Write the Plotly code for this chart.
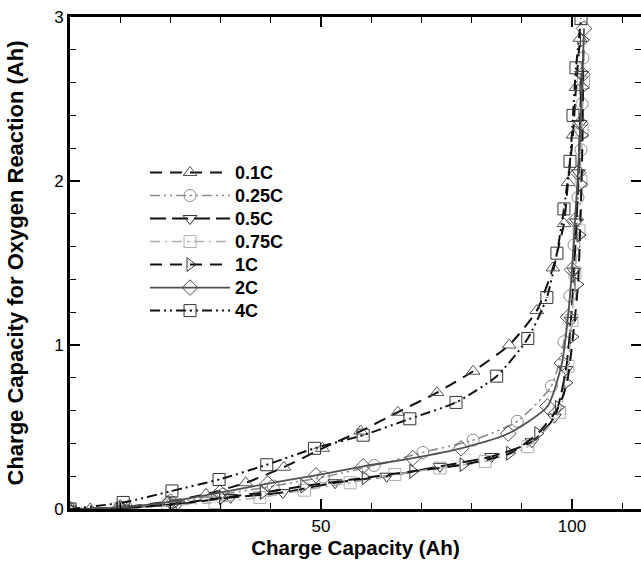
import plotly.graph_objects as go

# ---- data ----
names = ["0.1C", "0.25C", "0.5C", "0.75C", "1C", "2C", "4C"]

x_01C = [0, 4, 11.7, 19.4, 27.1, 35, 42.6, 50.3, 57.9, 65.3, 73.1, 80.3, 87.5, 93.0, 96.2, 98.4, 99.2, 100.2, 100.8, 101.6]
y_01C = [0, 0.0, 0.015, 0.045, 0.09, 0.16, 0.255, 0.37, 0.475, 0.59, 0.71, 0.84, 1.0, 1.21, 1.47, 1.74, 1.99, 2.28, 2.57, 2.87]

x_025C = [0, 10.5, 20.5, 30.5, 40.5, 50.5, 60.6, 70.3, 80.3, 89.1, 95.9, 98.4, 99.6, 100.4, 101.2, 101.8, 102.0, 102.2]
y_025C = [0, 0.01, 0.04, 0.09, 0.14, 0.195, 0.265, 0.345, 0.42, 0.535, 0.75, 1.02, 1.30, 1.61, 1.90, 2.19, 2.47, 2.75]

x_05C = [0, 10.5, 21.5, 32, 42.4, 52.8, 63.1, 73.7, 84, 92, 96.5, 98.8, 99.8, 100.4, 100.9, 101.3, 101.6, 101.9]
y_05C = [0, 0.005, 0.03, 0.07, 0.10, 0.16, 0.20, 0.26, 0.32, 0.41, 0.56, 0.85, 1.15, 1.45, 1.75, 2.05, 2.35, 2.65]

x_075C = [0, 10, 19.5, 28.9, 37.8, 46.7, 55.8, 64.7, 73.7, 82.7, 91.2, 97.5, 99.2, 100.0, 100.6, 101.4, 101.8, 102.0, 102.3]
y_075C = [0, 0.005, 0.02, 0.04, 0.07, 0.115, 0.16, 0.21, 0.25, 0.29, 0.38, 0.59, 0.87, 1.15, 1.44, 1.70, 2.0, 2.3, 2.6]

x_1C = [0, 10.5, 20.5, 30.4, 38.5, 46.6, 58.8, 68.3, 78.3, 87.6, 93.2, 97.3, 99.0, 100.2, 101.2, 101.6, 101.9, 102.1, 102.2, 102.3]
y_1C = [0, 0.005, 0.03, 0.07, 0.10, 0.14, 0.19, 0.23, 0.27, 0.34, 0.46, 0.62, 0.77, 1.05, 1.37, 1.67, 1.98, 2.28, 2.57, 2.86]

x_2C = [0, 10, 20, 29.9, 39.4, 49, 58.4, 68.3, 77.9, 87.3, 95.1, 98.0, 99.2, 100.0, 100.6, 101.2, 101.7, 102.1, 102.4]
y_2C = [0, 0.01, 0.045, 0.10, 0.155, 0.205, 0.26, 0.31, 0.37, 0.46, 0.625, 0.89, 1.17, 1.46, 1.76, 2.05, 2.35, 2.65, 2.93]

x_4C = [0, 10.6, 20.3, 29.7, 39.2, 48.7, 58.4, 67.7, 76.9, 85.0, 91.2, 95.0, 97.0, 98.4, 99.6, 100.2, 100.8, 101.8]
y_4C = [0, 0.04, 0.11, 0.18, 0.27, 0.37, 0.45, 0.55, 0.65, 0.81, 1.04, 1.29, 1.56, 1.83, 2.12, 2.40, 2.69, 2.99]

xs = [x_01C, x_025C, x_05C, x_075C, x_1C, x_2C, x_4C]
ys = [y_01C, y_025C, y_05C, y_075C, y_1C, y_2C, y_4C]

x_tickvals = [0, 50, 100]
x_ticktext = ["", "50", "100"]
y_tickvals = [0, 1, 2, 3]

# ---- styles ----
line_colors = ["#111111", "#8a8a8a", "#111111", "#b0b0b0", "#111111", "#505050", "#111111"]
marker_colors = ["#555555", "#8a8a8a", "#333333", "#b0b0b0", "#333333", "#505050", "#333333"]
dashes = ["12px,8px", "10px,4px,2px,4px,2px,4px", "16px,6px", "10px,5px,2px,5px",
          "12px,8px", "solid", "10px,4px,2px,4px,2px,4px"]
widths = [2, 1.6, 2, 1.6, 2, 1.8, 2]
symbols = ["triangle-up-open", "circle-open-dot", "triangle-down-open", "square-open-dot",
           "triangle-right-open", "diamond-open", "square-open-dot"]

fig = go.Figure()
for n, x, y, lc, mc, d, w, s in zip(names, xs, ys, line_colors, marker_colors, dashes, widths, symbols):
    fig.add_trace(go.Scatter(
        x=x, y=y, name='<span style="font-size:18px">%s</span>' % n, mode="lines+markers",
        line=dict(color=lc, dash=d, width=w, shape="spline", smoothing=0.6),
        marker=dict(symbol=s, size=12, color=mc, line=dict(color=mc, width=1)),
    ))

font_family = "Liberation Sans, Arial, sans-serif"
fig.update_layout(
    width=641, height=563,
    margin=dict(l=70, r=0, t=17, b=54),
    plot_bgcolor="white", paper_bgcolor="white",
    font=dict(family=font_family, color="black"),
    showlegend=True,
    legend=dict(
        x=0.1314, y=0.7175, xanchor="left", yanchor="top",
        font=dict(family=font_family, size=15.4, color="black", weight="bold"),
        bgcolor="rgba(0,0,0,0)", itemwidth=80, tracegroupgap=0,
    ),
    xaxis=dict(
        range=[0, 113.75], showgrid=False, zeroline=False, automargin=False,
        showline=True, linecolor="black", linewidth=3, mirror="ticks",
        ticks="inside", ticklen=10, tickwidth=2, tickcolor="black",
        tickvals=x_tickvals, ticktext=x_ticktext,
        tickfont=dict(size=17, family=font_family),
        minor=dict(dtick=10, ticks="inside", ticklen=6, tickwidth=1.2, tickcolor="black"),
        title=dict(text="Charge Capacity (Ah)", font=dict(size=20.5, family=font_family, weight="bold"), standoff=6),
    ),
    yaxis=dict(
        range=[0, 3], showgrid=False, zeroline=False, automargin=False,
        showline=True, linecolor="black", linewidth=3, mirror="ticks",
        ticks="inside", ticklen=10, tickwidth=2, tickcolor="black",
        tickvals=y_tickvals,
        tickfont=dict(size=17, family=font_family),
        minor=dict(dtick=0.2, ticks="inside", ticklen=6, tickwidth=1.2, tickcolor="black"),
        title=dict(text="Charge Capacity for Oxygen Reaction (Ah)", font=dict(size=22, family=font_family, weight="bold"), standoff=25),
    ),
)

fig.write_html("out.html", config={"displayModeBar": False},
               post_script="document.body.style.margin='0';")
